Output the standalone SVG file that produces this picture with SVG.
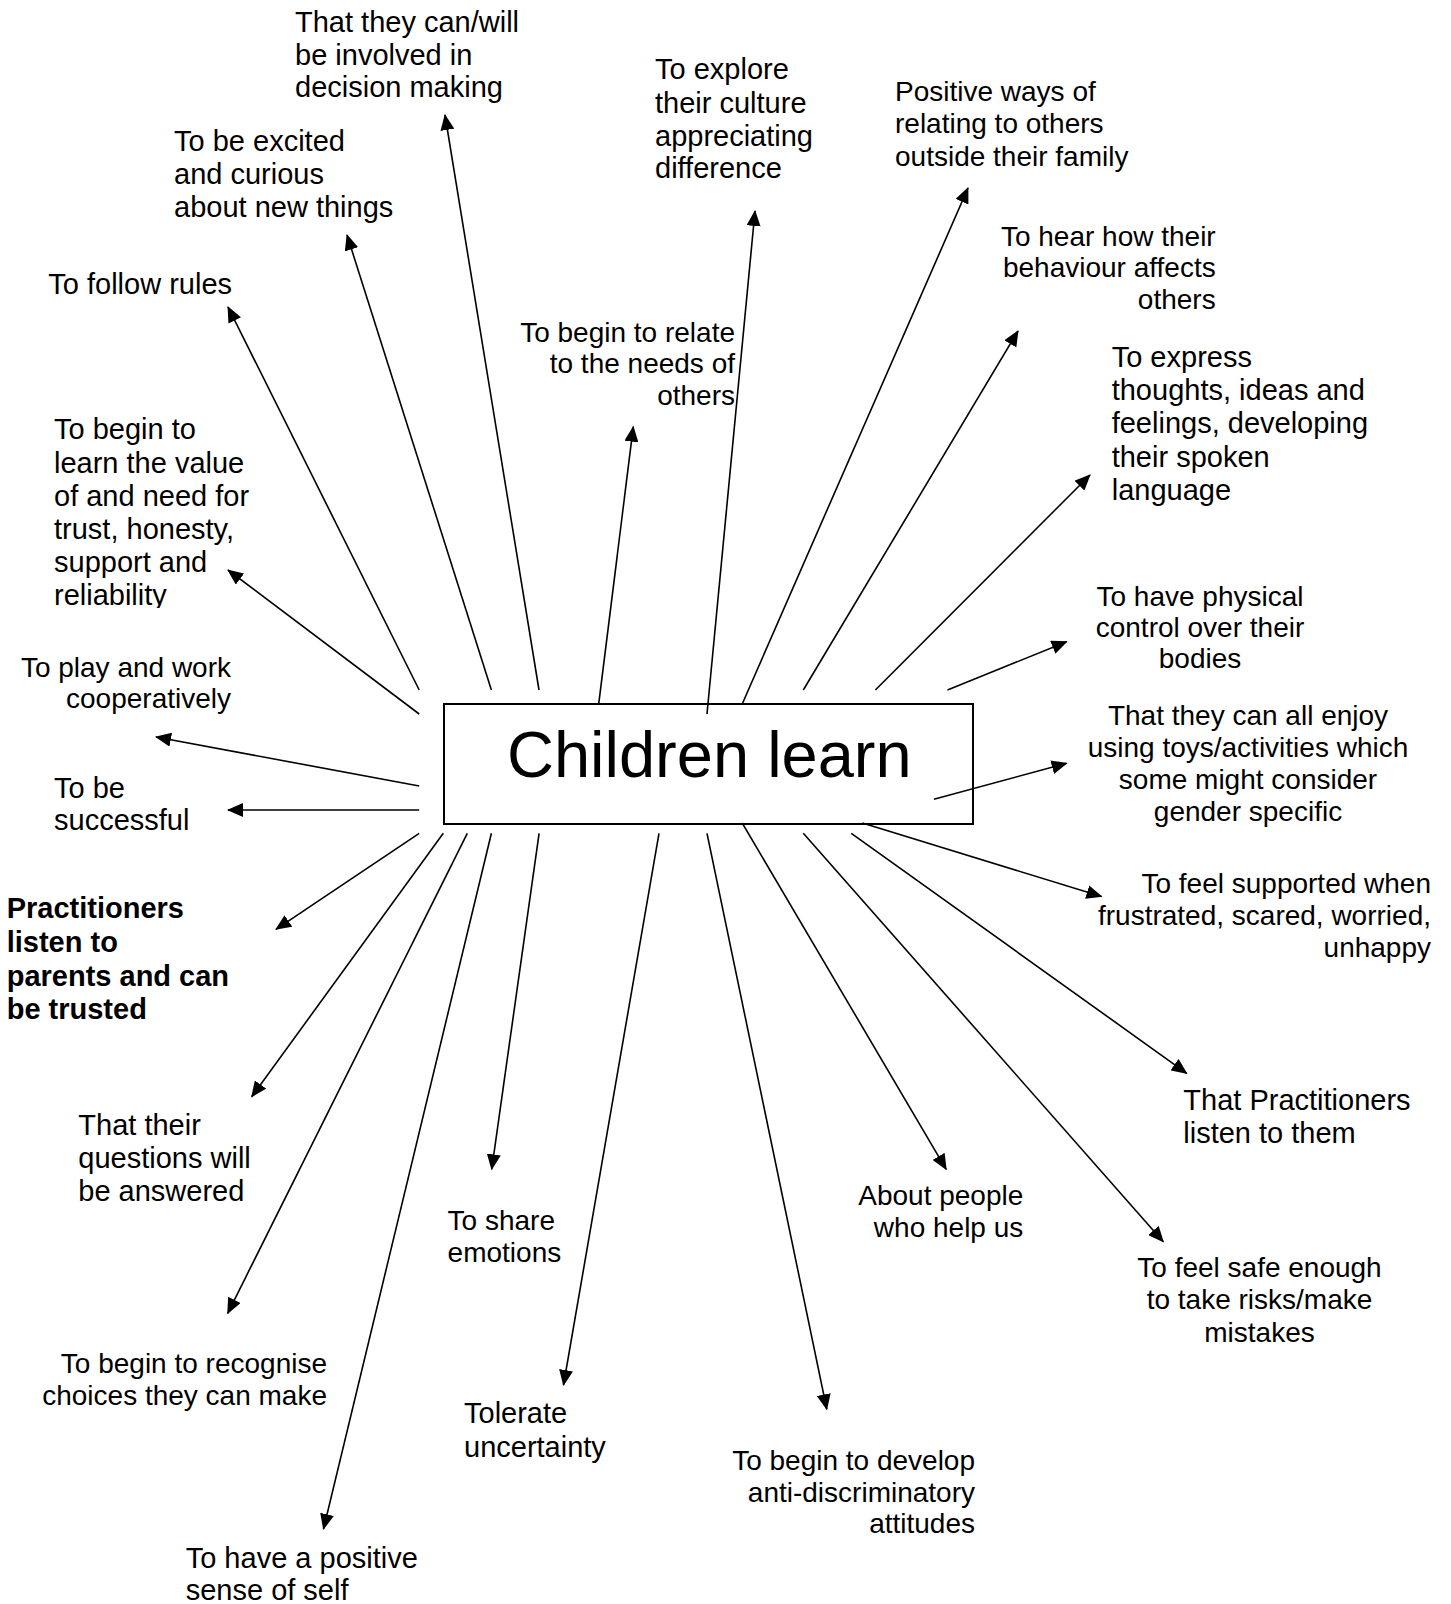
<svg xmlns="http://www.w3.org/2000/svg" width="1451" height="1604" viewBox="0 0 1451 1604">
<style>
  text { font-family: "Liberation Sans", Arial, sans-serif; fill: #000; }
  .t28 { font-size: 28px; }
  .t29 { font-size: 29px; }
  .b29 { font-size: 29px; font-weight: bold; }
  .e { text-anchor: end; }
  .m { text-anchor: middle; }
  .c { stroke: #000; stroke-width: 1.6; fill: none; marker-end: url(#ah); }
</style>
<defs>
  <marker id="ah" markerUnits="userSpaceOnUse" viewBox="0 0 16 14" markerWidth="16" markerHeight="14" refX="15" refY="7" orient="auto">
    <path d="M0,0 L16,7 L0,14 z" fill="#000"/>
  </marker>
  <clipPath id="clipTrust"><rect x="0" y="400" width="300" height="208"/></clipPath>
</defs>
<rect width="1451" height="1604" fill="#fff"/>

<g id="connectors">
  <line class="c" x1="539" y1="690" x2="445" y2="115"/>
  <line class="c" x1="491.4" y1="690" x2="347" y2="235"/>
  <line class="c" x1="419.2" y1="690" x2="228" y2="307"/>
  <line class="c" x1="419.2" y1="714" x2="228" y2="570"/>
  <line class="c" x1="419.2" y1="786" x2="156" y2="737"/>
  <line class="c" x1="419.2" y1="810" x2="228" y2="810"/>
  <line class="c" x1="419.2" y1="833.3" x2="276" y2="929.3"/>
  <line class="c" x1="443.3" y1="833.3" x2="251.7" y2="1096.7"/>
  <line class="c" x1="467.3" y1="833.3" x2="227.7" y2="1313.3"/>
  <line class="c" x1="491.4" y1="833.3" x2="323.5" y2="1529"/>
  <line class="c" x1="539.1" y1="833.3" x2="491.7" y2="1169.3"/>
  <line class="c" x1="659" y1="833.3" x2="563.5" y2="1385"/>
  <line class="c" x1="707" y1="833.3" x2="826.8" y2="1409.3"/>
  <line class="c" x1="742.2" y1="823" x2="946.2" y2="1169.3"/>
  <line class="c" x1="803.3" y1="833.3" x2="1163.3" y2="1241.7"/>
  <line class="c" x1="851.3" y1="833.3" x2="1186.7" y2="1073.3"/>
  <line class="c" x1="862.4" y1="823" x2="1101.5" y2="896.5"/>
  <line class="c" x1="933.9" y1="799.3" x2="1066.7" y2="763.3"/>
  <line class="c" x1="947.5" y1="690" x2="1066.7" y2="641.7"/>
  <line class="c" x1="875.4" y1="690" x2="1090" y2="475"/>
  <line class="c" x1="803.3" y1="690" x2="1018" y2="331"/>
  <line class="c" x1="742.2" y1="704" x2="968" y2="188"/>
  <line class="c" x1="707" y1="714" x2="755" y2="211"/>
  <line class="c" x1="598.7" y1="704" x2="633.3" y2="426.7"/>
</g>

<g id="center">
  <rect x="444" y="704" width="529" height="120" fill="none" stroke="#000" stroke-width="2"/>
  <text x="507" y="777" style="font-size:65px">Children learn</text>
</g>

<g id="n-decision"><text class="t29" x="295" y="32">That they can/will</text><text class="t29" x="295" y="64.5">be involved in</text><text class="t29" x="295" y="97">decision making</text></g>
<g id="n-excited"><text class="t29" x="174" y="151">To be excited</text><text class="t29" x="174" y="184">and curious</text><text class="t29" x="174" y="216.7">about new things</text></g>
<g id="n-rules"><text class="t29" x="48.3" y="294">To follow rules</text></g>
<g id="n-trust" clip-path="url(#clipTrust)"><text class="t29" x="54" y="439.3">To begin to</text><text class="t29" x="54" y="472.5">learn the value</text><text class="t29" x="54" y="505.5">of and need for</text><text class="t29" x="54" y="538.5">trust, honesty,</text><text class="t29" x="54" y="572">support and</text><text class="t29" x="54" y="605">reliability</text></g>
<g id="n-play"><text class="t28 e" x="231" y="677">To play and work</text><text class="t28 e" x="231" y="708">cooperatively</text></g>
<g id="n-success"><text class="t29" x="54" y="798">To be</text><text class="t29" x="54" y="830">successful</text></g>
<g id="n-practitioners"><text class="b29" x="6.7" y="918.3">Practitioners</text><text class="b29" x="6.7" y="951.7">listen to</text><text class="b29" x="6.7" y="985.5">parents and can</text><text class="b29" x="6.7" y="1019.3">be trusted</text></g>
<g id="n-questions"><text class="t29" x="78.3" y="1135">That their</text><text class="t29" x="78.3" y="1168">questions will</text><text class="t29" x="78.3" y="1201">be answered</text></g>
<g id="n-choices"><text class="t28 e" x="327" y="1373.3">To begin to recognise</text><text class="t28 e" x="327" y="1404.5">choices they can make</text></g>
<g id="n-self"><text class="t29" x="185.7" y="1568.3">To have a positive</text><text class="t29" x="185.7" y="1600">sense of self</text></g>
<g id="n-share"><text class="t28" x="447.6" y="1230">To share</text><text class="t28" x="447.6" y="1262">emotions</text></g>
<g id="n-tolerate"><text class="t29" x="464" y="1423">Tolerate</text><text class="t29" x="464" y="1456.7">uncertainty</text></g>
<g id="n-anti"><text class="t28 e" x="975" y="1470">To begin to develop</text><text class="t28 e" x="975" y="1501.7">anti-discriminatory</text><text class="t28 e" x="975" y="1533.3">attitudes</text></g>
<g id="n-people"><text class="t28 e" x="1023.3" y="1205">About people</text><text class="t28 e" x="1023.3" y="1236.7">who help us</text></g>
<g id="n-safe"><text class="t28 m" x="1259.5" y="1276.7">To feel safe enough</text><text class="t28 m" x="1259.5" y="1309.3">to take risks/make</text><text class="t28 m" x="1259.5" y="1341.7">mistakes</text></g>
<g id="n-listen"><text class="t29" x="1183.3" y="1110">That Practitioners</text><text class="t29" x="1183.3" y="1143.3">listen to them</text></g>
<g id="n-supported"><text class="t28 e" x="1431" y="892.7">To feel supported when</text><text class="t28 e" x="1431" y="925">frustrated, scared, worried,</text><text class="t28 e" x="1431" y="956.7">unhappy</text></g>
<g id="n-enjoy"><text class="t28 m" x="1248" y="725">That they can all enjoy</text><text class="t28 m" x="1248" y="756.7">using toys/activities which</text><text class="t28 m" x="1248" y="789.3">some might consider</text><text class="t28 m" x="1248" y="821">gender specific</text></g>
<g id="n-physical"><text class="t28 m" x="1200" y="606">To have physical</text><text class="t28 m" x="1200" y="637.3">control over their</text><text class="t28 m" x="1200" y="668.3">bodies</text></g>
<g id="n-express"><text class="t29" x="1111.7" y="366.7">To express</text><text class="t29" x="1111.7" y="400">thoughts, ideas and</text><text class="t29" x="1111.7" y="433.3">feelings, developing</text><text class="t29" x="1111.7" y="466.7">their spoken</text><text class="t29" x="1111.7" y="500">language</text></g>
<g id="n-hear"><text class="t28 e" x="1215.7" y="246">To hear how their</text><text class="t28 e" x="1215.7" y="277.3">behaviour affects</text><text class="t28 e" x="1215.7" y="309.3">others</text></g>
<g id="n-positive"><text class="t28" x="895" y="101">Positive ways of</text><text class="t28" x="895" y="133">relating to others</text><text class="t28" x="895" y="165.5">outside their family</text></g>
<g id="n-explore"><text class="t29" x="655" y="79.3">To explore</text><text class="t29" x="655" y="112.7">their culture</text><text class="t29" x="655" y="145.7">appreciating</text><text class="t29" x="655" y="178.3">difference</text></g>
<g id="n-relate"><text class="t28 e" x="735" y="342">To begin to relate</text><text class="t28 e" x="735" y="373">to the needs of</text><text class="t28 e" x="735" y="404.5">others</text></g>
</svg>
